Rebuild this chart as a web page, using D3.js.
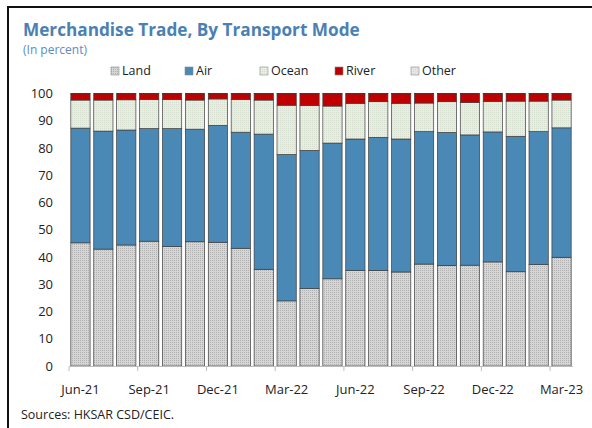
<!DOCTYPE html>
<html lang="en">
<head>
<meta charset="UTF-8">
<title>Merchandise Trade, By Transport Mode</title>
<script src="https://cdn.jsdelivr.net/npm/d3@7"></script>
<style>
    body { margin: 0; background: #fff; }
    svg { display: block; font-family: "Open Sans", sans-serif; }
</style>
</head>
<body>
<svg id="chart" width="592" height="428"></svg>
<script>
// months shown, Jun-21 .. Mar-23
const months = ["Jun-21","Jul-21","Aug-21","Sep-21","Oct-21","Nov-21","Dec-21","Jan-22","Feb-22","Mar-22","Apr-22",
                "May-22","Jun-22","Jul-22","Aug-22","Sep-22","Oct-22","Nov-22","Dec-22","Jan-23","Feb-23","Mar-23"];
const tickMonths = ["Jun-21","Sep-21","Dec-21","Mar-22","Jun-22","Sep-22","Dec-22","Mar-23"];
const yTicks = [0,10,20,30,40,50,60,70,80,90,100];

// shares in percent
const land  = [45.2,42.9,44.4,45.8,43.9,45.6,45.4,43.2,35.5,23.9,28.4,32.0,35.0,35.1,34.5,37.4,36.9,37.0,38.2,34.6,37.2,39.9];
const air   = [42.1,43.3,42.2,41.3,43.2,41.3,42.9,42.6,49.6,53.7,50.7,49.8,48.3,48.8,48.8,48.6,48.8,47.8,47.7,49.7,48.8,47.5];
const ocean = [10.3,11.4,11.1,10.7,10.7,10.7, 9.7,12.0,12.5,18.1,16.5,13.6,13.1,13.1,13.1,10.5,11.3,11.9,11.2,12.9,11.2,10.2];
const river = [ 2.3, 2.3, 2.2, 2.1, 2.1, 2.3, 1.9, 2.1, 2.3, 4.2, 4.3, 4.5, 3.5, 2.9, 3.5, 3.4, 2.9, 3.2, 2.8, 2.7, 2.7, 2.3];
const other = [ 0.1, 0.1, 0.1, 0.1, 0.1, 0.1, 0.1, 0.1, 0.1, 0.1, 0.1, 0.1, 0.1, 0.1, 0.1, 0.1, 0.1, 0.1, 0.1, 0.1, 0.1, 0.1];

const keys = ["Land","Air","Ocean","River","Other"];
const series = {Land: land, Air: air, Ocean: ocean, River: river, Other: other};
const rows = months.map((m, i) => {
    const r = {month: m};
    keys.forEach(k => r[k] = series[k][i]);
    return r;
});

const svg = d3.select("#chart");

// patterns for the dotted fills
const defs = svg.append("defs");
function dots(id, bg, dot) {
    const p = defs.append("pattern").attr("id", id)
        .attr("width", 2).attr("height", 2).attr("patternUnits", "userSpaceOnUse");
    p.append("rect").attr("width", 2).attr("height", 2).attr("fill", bg);
    p.append("rect").attr("width", 1).attr("height", 1).attr("fill", dot);
}
dots("landPat", "#d6d6d6", "#b0b0b0");
dots("oceanPat", "#e8efe2", "#d6decf");
dots("otherPat", "#e6e6e6", "#d8d8d8");

const fills = {Land: "url(#landPat)", Air: "#4a88b6", Ocean: "url(#oceanPat)", River: "#c00000", Other: "url(#otherPat)"};

// frame lines (top and left)
svg.append("line").attr("x1", 8).attr("x2", 592).attr("y1", 7).attr("y2", 7)
    .attr("stroke", "#111").attr("stroke-width", 2);
svg.append("line").attr("x1", 8).attr("x2", 8).attr("y1", 6).attr("y2", 428)
    .attr("stroke", "#111").attr("stroke-width", 2);

svg.append("text").attr("x", 23).attr("y", 36)
    .attr("font-size", 17.2).attr("font-weight", "bold").attr("fill", "#4b80b4")
    .text("Merchandise Trade, By Transport Mode");
svg.append("text").attr("x", 23).attr("y", 54)
    .attr("font-size", 12).attr("fill", "#5b8cc2")
    .text("(In percent)");

const x = d3.scaleBand().domain(months).range([69, 573]).paddingInner(0.16).paddingOuter(0.08);
const y = d3.scaleLinear().domain([0, 100]).range([366, 93.5]);

// legend
const legX = [111, 185, 260, 335, 411];
const leg = svg.append("g").selectAll("g").data(keys).join("g")
    .attr("transform", (d, i) => `translate(${legX[i]},71)`);
leg.append("rect").attr("x", 0).attr("y", -4).attr("width", 8).attr("height", 8)
    .attr("fill", d => fills[d]).attr("stroke", "#8a8a8a").attr("stroke-width", 0.6);
leg.append("text").attr("x", 11).attr("y", 0).attr("dy", "0.35em")
    .attr("font-size", 12.5).attr("fill", "#222").text(d => d);

// y labels
svg.append("g").selectAll("text").data(yTicks).join("text")
    .attr("x", 53).attr("y", d => y(d)).attr("dy", "0.35em")
    .attr("text-anchor", "end").attr("font-size", 13).attr("fill", "#222")
    .text(d => d);

// bars
const stacked = d3.stack().keys(keys)(rows);
svg.append("g").selectAll("g").data(stacked).join("g")
    .attr("fill", d => fills[d.key])
    .selectAll("rect").data(d => d).join("rect")
    .attr("x", d => x(d.data.month))
    .attr("width", x.bandwidth())
    .attr("y", d => y(d[1]))
    .attr("height", d => y(d[0]) - y(d[1]))
    .attr("stroke", "#3c3c3c").attr("stroke-width", 0.7);

// x axis
const gap = x.step() * x.paddingInner() / 2;
const ax = svg.append("g");
ax.append("line").attr("x1", 69).attr("x2", 573).attr("y1", 366.5).attr("y2", 366.5)
    .attr("stroke", "#bdbdbd").attr("stroke-width", 1);
ax.selectAll("line.tk").data(tickMonths).join("line").attr("class", "tk")
    .attr("x1", d => x(d) - gap).attr("x2", d => x(d) - gap)
    .attr("y1", 366.5).attr("y2", 371)
    .attr("stroke", "#bdbdbd");
ax.selectAll("text").data(tickMonths).join("text")
    .attr("x", d => x(d) + x.bandwidth() / 2).attr("y", 394)
    .attr("text-anchor", "middle").attr("font-size", 13).attr("fill", "#222")
    .text(d => d);

svg.append("text").attr("x", 21).attr("y", 419)
    .attr("font-size", 12.5).attr("fill", "#222")
    .text("Sources: HKSAR CSD/CEIC.");
</script>
</body>
</html>
